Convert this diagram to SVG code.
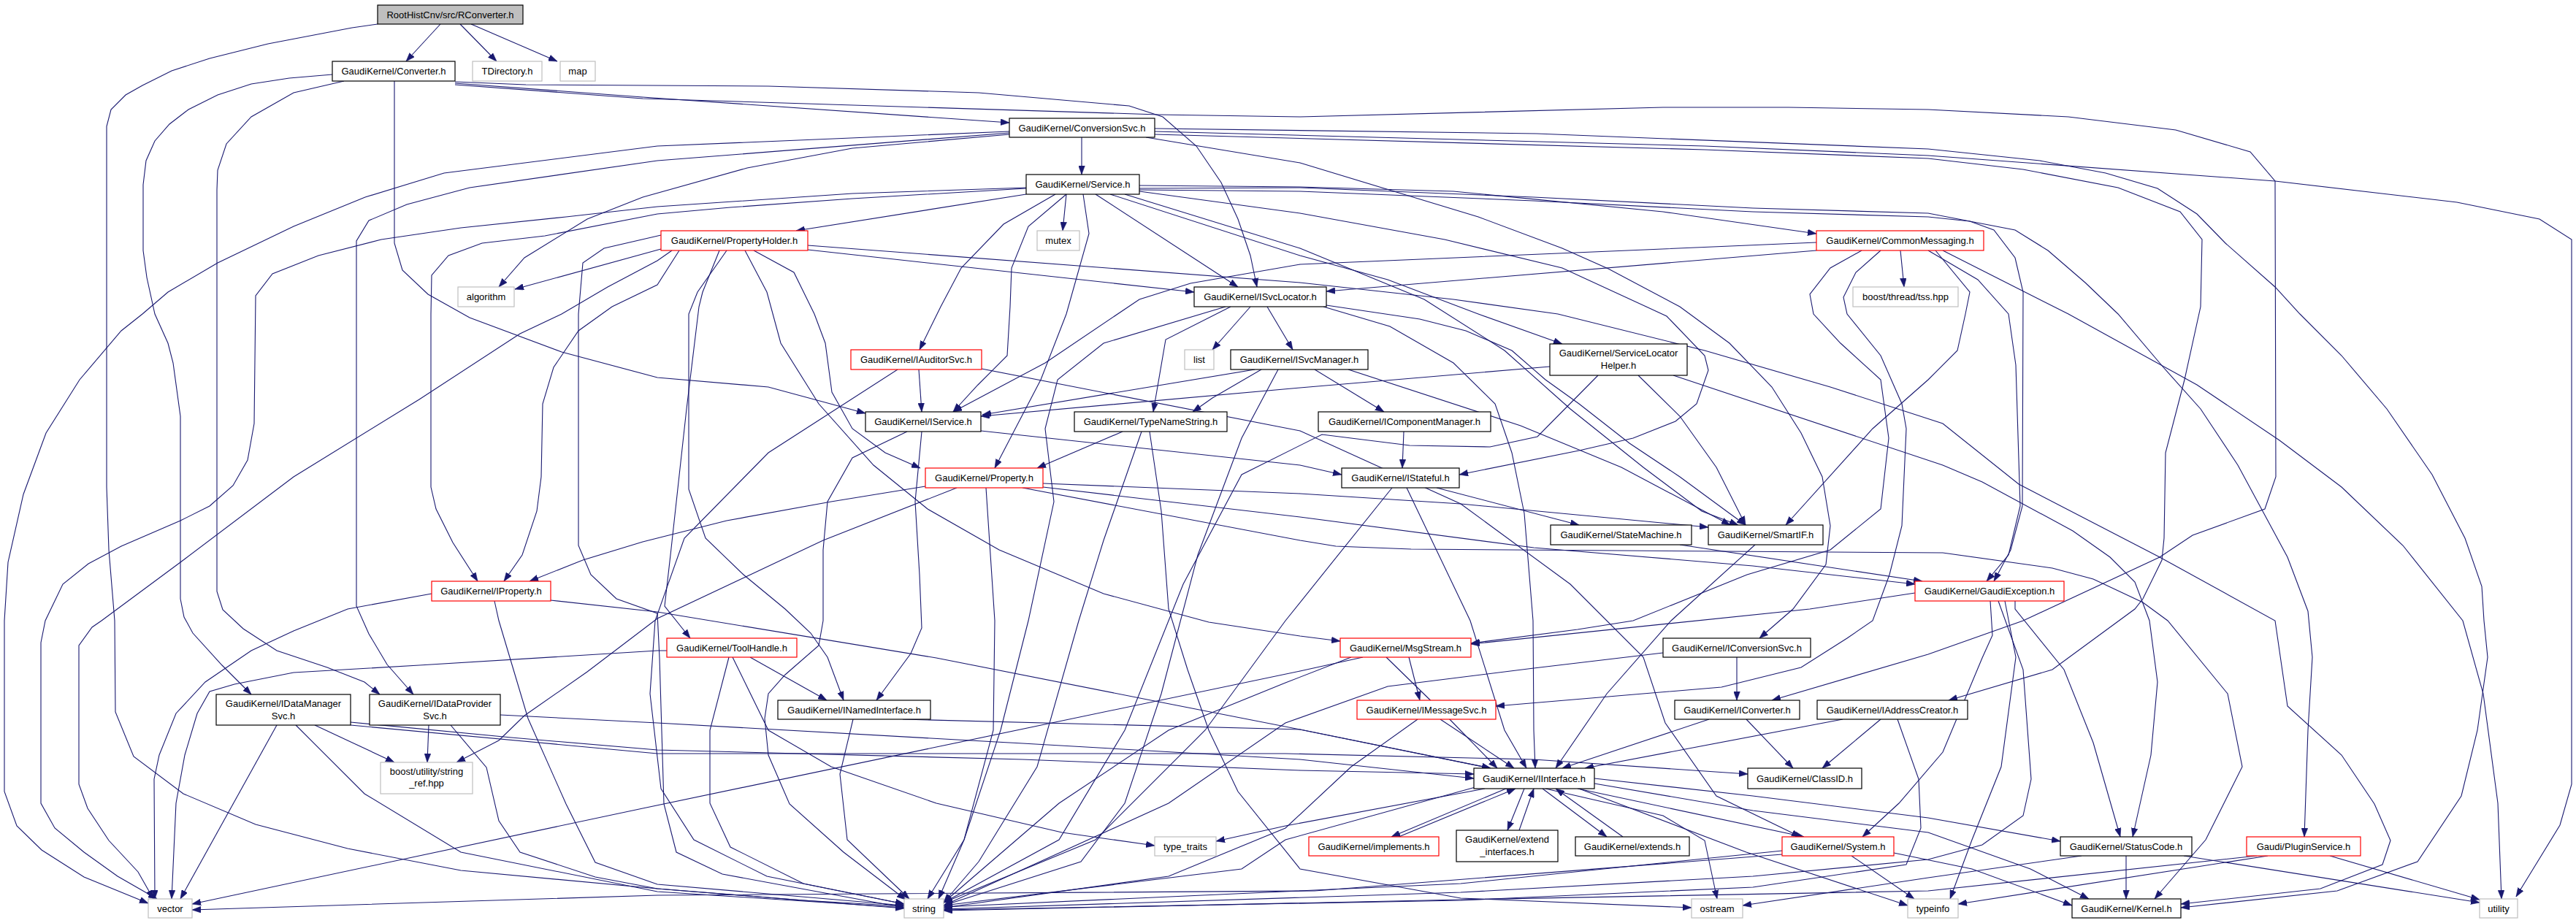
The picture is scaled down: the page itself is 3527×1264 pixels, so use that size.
<svg xmlns="http://www.w3.org/2000/svg" width="3527" height="1264" viewBox="0 0 3527 1264">
<style>
.e{fill:none;stroke:#191970;stroke-width:1.1;marker-end:url(#a)}
.n rect{fill:#fff;stroke:#000;stroke-width:1.2}
.n.r rect{stroke:#ff0000}
.n.g rect{stroke:#bfbfbf}
.n.root rect{fill:#bfbfbf}
.n text{font-family:"Liberation Sans",Arial,sans-serif;font-size:13px;fill:#000;text-anchor:middle}
</style>
<defs>
<marker id="a" markerUnits="userSpaceOnUse" markerWidth="12" markerHeight="9" viewBox="0 0 11 8" refX="11" refY="4" orient="auto">
<path d="M0,0 L11,4 L0,8 z" fill="#191970" stroke="#191970" stroke-width="0.5"/>
</marker>
</defs>
<rect width="3527" height="1264" fill="#fff"/>
<g id="edges">
<path class="e" d="M603,33 L556,84"/>
<path class="e" d="M630,33 L680,84"/>
<path class="e" d="M645,33 L763,84"/>
<path class="e" d="M517,33 L482,38 L367,60 L287,80 L235,97 L195,117 L172,130 L152,150 L146,173 L146,667 L149,753 L157,850 L158,975 L183,1036 L251,1087 L350,1129 L476,1162 L631,1192 L900,1217 L1100,1233 L1238,1241"/>
<path class="e" d="M455,102 L396,107 L344,115 L298,130 L258,150 L232,170 L212,193 L200,220 L196,253 L196,343 L201,380 L212,430 L230,470 L237,497 L247,570 L247,820 L252,845 L264,867 L304,911 L344,951"/>
<path class="e" d="M471,111 L402,127 L344,160 L310,197 L298,233 L297,260 L297,810 L305,835 L333,861 L379,891 L448,914 L499,934 L520,951"/>
<path class="e" d="M540,111 L540,333 L551,370 L586,403 L643,435 L769,482 L900,517 L1052,530 L1185,566"/>
<path class="e" d="M623,112 L720,116 L1052,118 L1340,127 L1546,145 L1592,160 L1638,200 L1672,250 L1695,300 L1712,350 L1721,393"/>
<path class="e" d="M623,114 L880,133 L1382,168"/>
<path class="e" d="M623,116 L880,135 L1586,157 L1780,160 L2277,147 L2449,147 L2640,150 L2832,160 L2979,178 L3081,208 L3115,248 L3116,653 L3101,697 L3002,733 L2957,763 L2770,850 L2640,896 L2426,959"/>
<path class="e" d="M1481,188 L1481,239"/>
<path class="e" d="M1382,180 L900,200 L608,237 L500,270 L402,310 L298,360 L230,400 L195,430 L166,453 L109,520 L63,593 L32,677 L11,770 L6,850 L6,1084 L23,1131 L57,1164 L115,1201 L203,1237"/>
<path class="e" d="M1382,182 L900,220 L643,257 L557,280 L505,302 L488,330 L488,830 L505,868 L530,910 L566,951"/>
<path class="e" d="M1382,184 L1167,203 L1023,230 L880,270 L804,300 L718,353 L683,393"/>
<path class="e" d="M1569,188 L1780,223 L1892,257 L2024,297 L2139,340 L2202,368 L2300,420 L2368,470 L2426,530 L2466,593 L2495,653 L2506,720 L2500,773 L2455,834 L2409,874"/>
<path class="e" d="M1581,176 L2104,183 L2640,204 L2793,220 L2883,237 L2954,258 L3008,293 L3047,333 L3115,393 L3149,430 L3206,487 L3268,560 L3330,650 L3375,737 L3398,803 L3401,850 L3406,900 L3392,1000 L3370,1090 L3310,1180 L3200,1220 L2986,1243"/>
<path class="e" d="M1581,180 L2334,200 L2640,213 L3115,248 L3364,277 L3477,300 L3521,328 L3521,1074 L3505,1130 L3445,1228"/>
<path class="e" d="M1581,184 L2334,205 L2640,217 L2770,232 L2900,257 L2985,290 L3015,328 L3013,420 L2991,520 L2965,620 L2963,737 L2960,767 L2934,820 L2923,834 L2810,917 L2668,959"/>
<path class="e" d="M1405,266 L1090,316"/>
<path class="e" d="M1460,266 L1455,316"/>
<path class="e" d="M1560,254 L1780,256 L1990,262 L2277,290 L2487,320"/>
<path class="e" d="M1500,266 L1695,393"/>
<path class="e" d="M1445,266 L1374,307 L1316,367 L1288,420 L1259,479"/>
<path class="e" d="M1460,266 L1408,310 L1385,367 L1383,420 L1379,487 L1339,527 L1305,564"/>
<path class="e" d="M1483,266 L1491,320 L1460,430 L1425,520 L1362,641"/>
<path class="e" d="M1405,258 L1167,272 L1000,284 L900,293 L746,323 L660,333 L614,350 L591,377 L590,430 L590,667 L597,697 L620,743 L654,796"/>
<path class="e" d="M1405,257 L1167,265 L900,283 L775,297 L631,312 L522,328 L436,350 L373,375 L350,405 L348,580 L339,630 L319,665 L287,693 L247,713 L166,748 L121,772 L86,800 L62,850 L56,880 L56,1100 L75,1134 L115,1167 L161,1200 L215,1231"/>
<path class="e" d="M1520,266 L1780,350 L1900,383 L2024,430 L2139,471"/>
<path class="e" d="M1560,262 L1780,292 L1978,328 L2139,367 L2254,420 L2282,433 L2334,487 L2339,507 L2323,553 L2294,577 L2236,600 L2162,617 L1998,650"/>
<path class="e" d="M1540,266 L1780,340 L1950,410 L2060,480 L2150,560 L2250,640 L2330,700 L2380,719"/>
<path class="e" d="M1560,258 L1780,257 L2100,270 L2400,285 L2640,292 L2759,315 L2804,343 L2855,387 L2900,430 L2962,503 L3013,560 L3064,637 L3132,763 L3160,837 L3166,900 L3160,1000 L3155,1146"/>
<path class="e" d="M1560,260 L1780,262 L2100,275 L2400,290 L2640,297 L2697,303 L2730,315 L2759,353 L2770,400 L2769,693 L2753,753 L2730,796"/>
<path class="e" d="M905,341 L705,396"/>
<path class="e" d="M920,343 L900,357 L832,393 L769,430 L712,457 L574,547 L402,653 L247,770 L139,850 L126,859 L108,884 L108,1074 L120,1107 L149,1151 L189,1194 L210,1231"/>
<path class="e" d="M930,343 L900,390 L838,420 L792,453 L758,503 L743,553 L741,653 L735,700 L715,760 L690,796"/>
<path class="e" d="M905,322 L827,340 L798,360 L792,430 L792,747 L809,787 L844,820 L900,840 L903,901 L909,1101 L926,1167 L989,1197 L1238,1243"/>
<path class="e" d="M985,343 L962,400 L957,420 L940,560 L918,760 L910,830 L945,874"/>
<path class="e" d="M995,343 L955,400 L943,430 L943,670 L966,737 L1018,787 L1075,834 L1110,867 L1133,900 L1155,959"/>
<path class="e" d="M1032,343 L1087,373 L1115,430 L1130,470 L1139,537 L1167,587 L1212,620 L1260,641"/>
<path class="e" d="M1020,343 L1050,400 L1069,470 L1121,553 L1196,637 L1270,697 L1368,753 L1511,813 L1655,852 L1780,871 L1835,878"/>
<path class="e" d="M1106,342 L1635,400"/>
<path class="e" d="M1106,336 L1780,387 L1990,410 L2133,430 L2334,480 L2506,530 L2660,580 L2764,663 L2957,763 L3115,850 L3132,967 L3206,1034 L3251,1101 L3273,1151 L3262,1184 L3177,1217 L2986,1238"/>
<path class="e" d="M1712,420 L1660,479"/>
<path class="e" d="M1735,420 L1770,479"/>
<path class="e" d="M1685,420 L1596,465 L1579,564"/>
<path class="e" d="M1678,420 L1511,470 L1448,520 L1431,587 L1443,687 L1408,850 L1370,1000 L1320,1150 L1285,1231"/>
<path class="e" d="M1812,420 L1903,447 L1990,497 L2047,553 L2070,620 L2087,703 L2099,850 L2100,1000 L2102,1052"/>
<path class="e" d="M1816,418 L1944,437 L2007,453 L2070,480 L2116,520 L2162,553 L2231,607 L2300,653 L2368,703 L2390,719"/>
<path class="e" d="M1718,506 L1345,568"/>
<path class="e" d="M1800,506 L1895,564"/>
<path class="e" d="M1846,506 L2082,583 L2220,640 L2369,719"/>
<path class="e" d="M1727,506 L1660,545 L1633,564"/>
<path class="e" d="M1750,506 L1700,600 L1640,760 L1590,950 L1540,1100 L1480,1180 L1292,1240"/>
<path class="e" d="M2122,502 L1780,531 L1343,570"/>
<path class="e" d="M2243,514 L2300,570 L2350,640 L2390,719"/>
<path class="e" d="M2188,514 L2105,598 L2040,612 L1930,610 L1810,595 L1700,650 L1620,800 L1540,1000 L1450,1150 L1292,1236"/>
<path class="e" d="M2291,514 L2660,637 L2714,660 L2838,727 L2889,763 L2923,797 L2943,850 L2954,934 L2945,1034 L2920,1146"/>
<path class="e" d="M1258,506 L1262,564"/>
<path class="e" d="M1229,506 L1052,620 L937,737 L897,850 L890,950 L905,1080 L950,1150 L1050,1200 L1238,1238"/>
<path class="e" d="M1344,505 L1780,590 L2000,690 L2150,800 L2250,900 L2280,990 L2350,1090 L2465,1146"/>
<path class="e" d="M1262,591 L1253,687 L1259,787 L1262,860 L1247,895 L1200,959"/>
<path class="e" d="M1242,591 L1167,627 L1133,687 L1127,753 L1127,850 L1121,884 L1075,924 L1052,950 L1047,984 L1052,1034 L1081,1101 L1155,1167 L1240,1232"/>
<path class="e" d="M1343,590 L1780,637 L1837,650"/>
<path class="e" d="M1537,591 L1420,641"/>
<path class="e" d="M1563,591 L1511,740 L1477,850 L1420,1050 L1340,1180 L1292,1236"/>
<path class="e" d="M1574,591 L1590,700 L1600,834 L1626,917 L1655,1000 L1695,1084 L1780,1190 L2000,1230 L2316,1243"/>
<path class="e" d="M1267,666 L1138,687 L995,713 L880,742 L798,767 L725,796"/>
<path class="e" d="M1310,668 L1127,740 L900,847 L804,920 L718,980 L683,1014 L625,1044"/>
<path class="e" d="M1350,668 L1362,850 L1360,1000 L1320,1150 L1270,1231"/>
<path class="e" d="M1428,662 L1780,676 L2000,690 L2339,722"/>
<path class="e" d="M1428,667 L1780,708 L2100,750 L2400,775 L2622,800"/>
<path class="e" d="M1400,668 L1780,740 L1829,748 L1932,752 L2660,757 L2810,778 L2866,793 L2934,825 L2968,850 L3050,950 L3070,1050 L3020,1150 L2950,1231"/>
<path class="e" d="M1922,591 L1920,641"/>
<path class="e" d="M1967,668 L2162,719"/>
<path class="e" d="M1926,668 L2013,850 L2060,1000 L2090,1052"/>
<path class="e" d="M1906,668 L1760,850 L1650,1000 L1500,1150 L1292,1236"/>
<path class="e" d="M2300,746 L2632,796"/>
<path class="e" d="M2403,746 L2288,850 L2200,950 L2130,1052"/>
<path class="e" d="M2487,343 L1816,399"/>
<path class="e" d="M2487,332 L1780,362 L1630,388 L1560,410 L1431,497 L1305,564"/>
<path class="e" d="M2602,343 L2607,393"/>
<path class="e" d="M2650,343 L2697,400 L2691,430 L2680,480 L2640,520 L2564,587 L2445,719"/>
<path class="e" d="M2549,343 L2506,367 L2478,403 L2483,430 L2520,470 L2575,520 L2586,600 L2575,697 L2506,753 L2392,787 L2236,850 L2160,862 L2014,881"/>
<path class="e" d="M2575,343 L2541,373 L2524,407 L2529,430 L2575,487 L2604,553 L2610,587 L2604,720 L2587,787 L2564,850 L2529,874 L2466,914 L2357,941 L2048,967"/>
<path class="e" d="M2660,343 L2832,430 L3008,527 L3121,603 L3206,667 L3290,747 L3372,850 L3400,950 L3420,1100 L3425,1231"/>
<path class="e" d="M2640,343 L2708,383 L2750,430 L2760,500 L2766,693 L2750,760 L2720,796"/>
<path class="e" d="M2622,812 L2478,834 L2014,882"/>
<path class="e" d="M2725,823 L2728,870 L2714,901 L2660,1030 L2600,1100 L2550,1146"/>
<path class="e" d="M2759,823 L2759,834 L2826,917 L2866,1017 L2903,1146"/>
<path class="e" d="M2736,823 L2770,917 L2781,1067 L2770,1117 L2714,1157 L2640,1177 L2400,1200 L2000,1222 L1292,1245"/>
<path class="e" d="M2745,823 L2760,900 L2740,1050 L2700,1150 L2670,1231"/>
<path class="e" d="M1027,900 L1132,959"/>
<path class="e" d="M998,900 L972,1000 L972,1100 L1000,1160 L1100,1210 L1238,1238"/>
<path class="e" d="M913,891 L900,891 L574,911 L402,921 L321,937 L287,947 L270,977 L253,1034 L241,1100 L235,1231"/>
<path class="e" d="M1003,900 L1052,1000 L1138,1050 L1282,1100 L1454,1140 L1581,1158"/>
<path class="e" d="M1929,900 L1944,959"/>
<path class="e" d="M1866,900 L1780,919 L880,1107 L263,1238"/>
<path class="e" d="M1850,900 L1760,935 L1600,1000 L1450,1100 L1292,1236"/>
<path class="e" d="M1898,900 L1980,980 L2050,1052"/>
<path class="e" d="M2378,900 L2378,959"/>
<path class="e" d="M2277,894 L2100,915 L1900,940 L1760,990 L1600,1100 L1292,1240"/>
<path class="e" d="M1972,985 L2073,1052"/>
<path class="e" d="M1941,985 L1850,1050 L1760,1134 L1600,1200 L1292,1243"/>
<path class="e" d="M2340,985 L2139,1052"/>
<path class="e" d="M2391,985 L2455,1052"/>
<path class="e" d="M2523,985 L2170,1052"/>
<path class="e" d="M2575,985 L2495,1052"/>
<path class="e" d="M2598,985 L2627,1067 L2630,1134 L2610,1184 L2400,1215 L2000,1233 L1292,1246"/>
<path class="e" d="M379,993 L247,1231"/>
<path class="e" d="M405,993 L499,1087 L631,1167 L900,1221 L1238,1243"/>
<path class="e" d="M431,993 L540,1044"/>
<path class="e" d="M480,989 L700,1010 L900,1027 L1400,1040 L1780,1055 L2018,1060"/>
<path class="e" d="M480,993 L900,1032 L1760,1032 L2100,1040 L2393,1060"/>
<path class="e" d="M587,993 L585,1044"/>
<path class="e" d="M617,993 L666,1051 L683,1124 L712,1167 L815,1201 L900,1217 L1238,1244"/>
<path class="e" d="M685,979 L900,990 L1400,1018 L1780,1040 L2018,1066"/>
<path class="e" d="M1236,985 L1780,999 L2041,1052"/>
<path class="e" d="M1168,985 L1150,1060 L1160,1150 L1245,1231"/>
<path class="e" d="M2062,1080 L1905,1146"/>
<path class="e" d="M1915,1146 L2075,1080"/>
<path class="e" d="M2087,1080 L2064,1137"/>
<path class="e" d="M2080,1137 L2100,1080"/>
<path class="e" d="M2112,1080 L2200,1146"/>
<path class="e" d="M2222,1146 L2130,1080"/>
<path class="e" d="M2160,1080 L2470,1146"/>
<path class="e" d="M2183,1066 L2400,1090 L2640,1120 L2821,1152"/>
<path class="e" d="M2183,1073 L2400,1110 L2640,1140 L2780,1190 L2860,1231"/>
<path class="e" d="M2116,1080 L2277,1117 L2334,1151 L2351,1231"/>
<path class="e" d="M2162,1080 L2391,1167 L2612,1240"/>
<path class="e" d="M2033,1080 L1760,1131 L1665,1152"/>
<path class="e" d="M2020,1078 L1760,1150 L1700,1190 L1292,1240"/>
<path class="e" d="M2440,1165 L2000,1210 L1292,1242"/>
<path class="e" d="M2440,1170 L1800,1220 L900,1226 L263,1246"/>
<path class="e" d="M2535,1172 L2621,1231"/>
<path class="e" d="M2593,1168 L2700,1190 L2837,1240"/>
<path class="e" d="M2911,1172 L2911,1231"/>
<path class="e" d="M2990,1172 L3395,1236"/>
<path class="e" d="M2850,1172 L2640,1202 L2386,1240"/>
<path class="e" d="M3190,1172 L3395,1232"/>
<path class="e" d="M3105,1172 L2681,1238"/>
<path class="e" d="M3090,1172 L2640,1220 L2000,1232 L1292,1247"/>
<path class="e" d="M591,813 L476,834 L402,864 L344,891 L281,934 L241,977 L218,1034 L211,1067 L212,1231"/>
<path class="e" d="M677,823 L683,850 L723,984 L775,1101 L815,1181 L900,1211 L1238,1240"/>
<path class="e" d="M754,822 L900,838 L1282,901 L1586,961 L1780,999 L2041,1052"/>
</g>
<g id="n_rconverter" class="n root"><rect x="517" y="7" width="199" height="26"/><text x="616.5" y="24.5">RootHistCnv/src/RConverter.h</text></g>
<g id="n_converter" class="n"><rect x="455" y="84" width="168" height="27"/><text x="539" y="102">GaudiKernel/Converter.h</text></g>
<g id="n_tdirectory" class="n g"><rect x="647" y="84" width="95" height="27"/><text x="694.5" y="102">TDirectory.h</text></g>
<g id="n_map" class="n g"><rect x="767" y="84" width="48" height="27"/><text x="791" y="102">map</text></g>
<g id="n_conversionsvc" class="n"><rect x="1382" y="162" width="199" height="26"/><text x="1481.5" y="179.5">GaudiKernel/ConversionSvc.h</text></g>
<g id="n_service" class="n"><rect x="1405" y="239" width="155" height="27"/><text x="1482.5" y="257">GaudiKernel/Service.h</text></g>
<g id="n_propertyholder" class="n r"><rect x="905" y="316" width="201" height="27"/><text x="1005.5" y="334">GaudiKernel/PropertyHolder.h</text></g>
<g id="n_mutex" class="n g"><rect x="1420" y="316" width="58" height="27"/><text x="1449" y="334">mutex</text></g>
<g id="n_commonmessaging" class="n r"><rect x="2487" y="316" width="229" height="27"/><text x="2601.5" y="334">GaudiKernel/CommonMessaging.h</text></g>
<g id="n_algorithm" class="n g"><rect x="627" y="393" width="77" height="27"/><text x="665.5" y="411">algorithm</text></g>
<g id="n_isvclocator" class="n"><rect x="1635" y="393" width="181" height="27"/><text x="1725.5" y="411">GaudiKernel/ISvcLocator.h</text></g>
<g id="n_tss" class="n g"><rect x="2537" y="393" width="144" height="27"/><text x="2609" y="411">boost/thread/tss.hpp</text></g>
<g id="n_iauditorsvc" class="n r"><rect x="1165" y="479" width="179" height="27"/><text x="1254.5" y="497">GaudiKernel/IAuditorSvc.h</text></g>
<g id="n_list" class="n g"><rect x="1622" y="479" width="40" height="27"/><text x="1642" y="497">list</text></g>
<g id="n_isvcmanager" class="n"><rect x="1685" y="479" width="188" height="27"/><text x="1779" y="497">GaudiKernel/ISvcManager.h</text></g>
<g id="n_servicelocatorhelper" class="n"><rect x="2122" y="471" width="188" height="43"/><text x="2216" y="488">GaudiKernel/ServiceLocator</text><text x="2216" y="505">Helper.h</text></g>
<g id="n_iservice" class="n"><rect x="1185" y="564" width="158" height="27"/><text x="1264" y="582">GaudiKernel/IService.h</text></g>
<g id="n_typenamestring" class="n"><rect x="1471" y="564" width="209" height="27"/><text x="1575.5" y="582">GaudiKernel/TypeNameString.h</text></g>
<g id="n_icomponentmanager" class="n"><rect x="1805" y="564" width="236" height="27"/><text x="1923" y="582">GaudiKernel/IComponentManager.h</text></g>
<g id="n_property" class="n r"><rect x="1267" y="641" width="161" height="27"/><text x="1347.5" y="659">GaudiKernel/Property.h</text></g>
<g id="n_istateful" class="n"><rect x="1837" y="641" width="161" height="27"/><text x="1917.5" y="659">GaudiKernel/IStateful.h</text></g>
<g id="n_statemachine" class="n"><rect x="2123" y="719" width="193" height="27"/><text x="2219.5" y="737">GaudiKernel/StateMachine.h</text></g>
<g id="n_smartif" class="n"><rect x="2339" y="719" width="157" height="27"/><text x="2417.5" y="737">GaudiKernel/SmartIF.h</text></g>
<g id="n_iproperty" class="n r"><rect x="591" y="796" width="163" height="27"/><text x="672.5" y="814">GaudiKernel/IProperty.h</text></g>
<g id="n_gaudiexception" class="n r"><rect x="2622" y="796" width="204" height="27"/><text x="2724" y="814">GaudiKernel/GaudiException.h</text></g>
<g id="n_toolhandle" class="n r"><rect x="913" y="874" width="178" height="26"/><text x="1002" y="891.5">GaudiKernel/ToolHandle.h</text></g>
<g id="n_msgstream" class="n r"><rect x="1835" y="874" width="179" height="26"/><text x="1924.5" y="891.5">GaudiKernel/MsgStream.h</text></g>
<g id="n_iconversionsvc" class="n"><rect x="2277" y="874" width="202" height="26"/><text x="2378" y="891.5">GaudiKernel/IConversionSvc.h</text></g>
<g id="n_idatamanagersvc" class="n"><rect x="296" y="951" width="184" height="42"/><text x="388" y="968">GaudiKernel/IDataManager</text><text x="388" y="985">Svc.h</text></g>
<g id="n_idataprovidersvc" class="n"><rect x="506" y="951" width="179" height="42"/><text x="595.5" y="968">GaudiKernel/IDataProvider</text><text x="595.5" y="985">Svc.h</text></g>
<g id="n_inamedinterface" class="n"><rect x="1065" y="959" width="209" height="26"/><text x="1169.5" y="976.5">GaudiKernel/INamedInterface.h</text></g>
<g id="n_imessagesvc" class="n r"><rect x="1858" y="959" width="190" height="26"/><text x="1953" y="976.5">GaudiKernel/IMessageSvc.h</text></g>
<g id="n_iconverter" class="n"><rect x="2293" y="959" width="171" height="26"/><text x="2378.5" y="976.5">GaudiKernel/IConverter.h</text></g>
<g id="n_iaddresscreator" class="n"><rect x="2488" y="959" width="206" height="26"/><text x="2591" y="976.5">GaudiKernel/IAddressCreator.h</text></g>
<g id="n_string_ref" class="n g"><rect x="521" y="1044" width="126" height="43"/><text x="584" y="1061">boost/utility/string</text><text x="584" y="1077">_ref.hpp</text></g>
<g id="n_iinterface" class="n"><rect x="2018" y="1052" width="165" height="28"/><text x="2100.5" y="1070.5">GaudiKernel/IInterface.h</text></g>
<g id="n_classid" class="n"><rect x="2393" y="1052" width="156" height="28"/><text x="2471" y="1070.5">GaudiKernel/ClassID.h</text></g>
<g id="n_implements" class="n r"><rect x="1792" y="1146" width="178" height="26"/><text x="1881" y="1163.5">GaudiKernel/implements.h</text></g>
<g id="n_extend_interfaces" class="n"><rect x="1994" y="1137" width="139" height="43"/><text x="2063.5" y="1154">GaudiKernel/extend</text><text x="2063.5" y="1171">_interfaces.h</text></g>
<g id="n_extends" class="n"><rect x="2157" y="1146" width="156" height="26"/><text x="2235" y="1163.5">GaudiKernel/extends.h</text></g>
<g id="n_system" class="n r"><rect x="2440" y="1146" width="153" height="26"/><text x="2516.5" y="1163.5">GaudiKernel/System.h</text></g>
<g id="n_statuscode" class="n"><rect x="2821" y="1146" width="180" height="26"/><text x="2911" y="1163.5">GaudiKernel/StatusCode.h</text></g>
<g id="n_pluginservice" class="n r"><rect x="3076" y="1146" width="156" height="26"/><text x="3154" y="1163.5">Gaudi/PluginService.h</text></g>
<g id="n_type_traits" class="n g"><rect x="1581" y="1146" width="84" height="26"/><text x="1623" y="1163.5">type_traits</text></g>
<g id="n_vector" class="n g"><rect x="203" y="1231" width="60" height="26"/><text x="233" y="1248.5">vector</text></g>
<g id="n_string" class="n g"><rect x="1238" y="1231" width="54" height="26"/><text x="1265" y="1248.5">string</text></g>
<g id="n_ostream" class="n g"><rect x="2316" y="1231" width="70" height="26"/><text x="2351" y="1248.5">ostream</text></g>
<g id="n_typeinfo" class="n g"><rect x="2612" y="1231" width="69" height="26"/><text x="2646.5" y="1248.5">typeinfo</text></g>
<g id="n_kernel" class="n"><rect x="2837" y="1231" width="149" height="26"/><text x="2911.5" y="1248.5">GaudiKernel/Kernel.h</text></g>
<g id="n_utility" class="n g"><rect x="3395" y="1231" width="52" height="26"/><text x="3421" y="1248.5">utility</text></g>
</svg>
